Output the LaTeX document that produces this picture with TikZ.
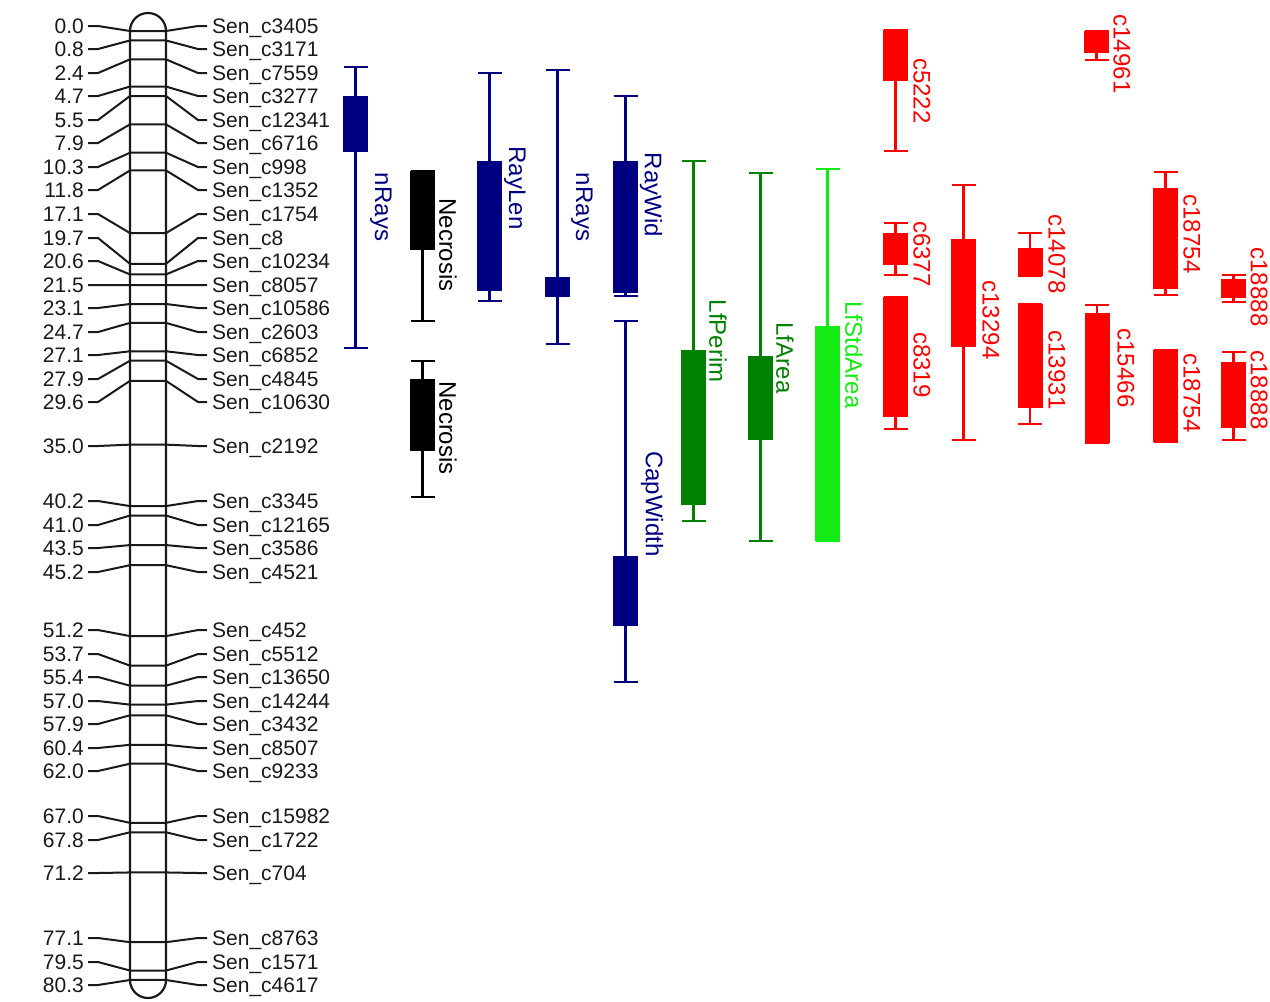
\documentclass[tikz,border=0pt]{standalone}
\usepackage{fontspec}
\setmainfont{Liberation Sans}
\definecolor{navyc}{RGB}{0,0,128}
\definecolor{dgreen}{RGB}{0,128,0}
\definecolor{lgreen}{RGB}{20,235,20}
\definecolor{redc}{RGB}{255,0,0}
\definecolor{mtext}{RGB}{25,25,25}
\newcommand\qtlbar[6]{%
  \draw[whisk,#1] (#2,#3) -- (#2,#6);
  \draw[whisk,#1] (#2-12,#3) -- (#2+12,#3);
  \draw[whisk,#1] (#2-12,#6) -- (#2+12,#6);
  \fill[#1] (#2-12.5,#4) rectangle (#2+12.5,#5);}
\begin{document}
\begin{tikzpicture}[x=1pt,y=-1pt,
  mlab/.style={font=\fontsize{21}{21}\selectfont, text=mtext, text height=15pt, text depth=0pt, inner ysep=2pt},
  mline/.style={line width=2pt, draw=mtext, line join=round},
  tlab/.style={rotate=-90, font=\fontsize{24}{24}\selectfont, inner sep=0pt},
  whisk/.style={line width=2.2pt}]
\useasboundingbox (0,0) rectangle (1270,1002);
\fill[white] (0,0) rectangle (1270,1002);

% markers
\foreach \cm/\ly/\nm [count=\i] in {
 0.0/26/Sen\_c3405, 0.8/49/Sen\_c3171, 2.4/73/Sen\_c7559, 4.7/96/Sen\_c3277,
 5.5/120/Sen\_c12341, 7.9/143/Sen\_c6716, 10.3/167/Sen\_c998, 11.8/190/Sen\_c1352,
 17.1/214/Sen\_c1754, 19.7/238/Sen\_c8, 20.6/261/Sen\_c10234, 21.5/285/Sen\_c8057,
 23.1/308/Sen\_c10586, 24.7/332/Sen\_c2603, 27.1/355/Sen\_c6852, 27.9/379/Sen\_c4845,
 29.6/402/Sen\_c10630, 35.0/446/Sen\_c2192, 40.2/501/Sen\_c3345, 41.0/525/Sen\_c12165,
 43.5/548/Sen\_c3586, 45.2/572/Sen\_c4521, 51.2/630/Sen\_c452, 53.7/654/Sen\_c5512,
 55.4/677/Sen\_c13650, 57.0/701/Sen\_c14244, 57.9/724/Sen\_c3432, 60.4/748/Sen\_c8507,
 62.0/771/Sen\_c9233, 67.0/816/Sen\_c15982, 67.8/840/Sen\_c1722, 71.2/873/Sen\_c704,
 77.1/938/Sen\_c8763, 79.5/962/Sen\_c1571, 80.3/985/Sen\_c4617}{
  \pgfmathsetmacro\my{31+\cm*11.818}
  \node[mlab, anchor=east, inner xsep=4pt] (L\i) at (88,\ly) {\cm};
  \node[mlab, anchor=west, inner xsep=5pt] (R\i) at (207,\ly) {\nm};
  \draw[mline] (L\i.east) -- ++(10,0) -- (130,\my) -- (166,\my) -- (198,\ly) -- (R\i.west);
}
% chromosome
\draw[line width=2.2pt, draw=mtext, rounded corners=18pt] (130,13) rectangle (166,998);

% QTL bars: colour, xc, whisker top, box top, box bottom, whisker bottom
\qtlbar{navyc}{355.5}{67}{96}{152}{348}
\qtlbar{black}{422.5}{171}{171}{250}{321}
\qtlbar{black}{422.5}{361}{379}{451}{497}
\qtlbar{navyc}{489.5}{73}{161}{291}{301}
\qtlbar{navyc}{557.5}{70}{277}{297}{344}
\qtlbar{navyc}{625.5}{96}{161}{293}{296}
\qtlbar{navyc}{625.5}{321}{556}{626}{682}
\qtlbar{dgreen}{693.5}{161}{350}{505}{521}
\qtlbar{dgreen}{760.5}{173}{356}{440}{541}
\qtlbar{lgreen}{827.5}{169}{326}{541}{541}
\qtlbar{redc}{895.5}{30}{30}{81}{151}
\qtlbar{redc}{1096.5}{31}{31}{53}{60}
\qtlbar{redc}{895.5}{223}{233}{265}{275}
\qtlbar{redc}{895.5}{297}{297}{417}{429}
\qtlbar{redc}{963.5}{185}{239}{347}{440}
\qtlbar{redc}{1030}{233}{248}{276}{276}
\qtlbar{redc}{1030}{304}{304}{408}{424}
\qtlbar{redc}{1097}{305}{313}{443}{443}
\qtlbar{redc}{1165.5}{172}{188}{289}{295}
\qtlbar{redc}{1165.5}{350}{350}{442}{442}
\qtlbar{redc}{1233.5}{275}{279}{298}{302}
\qtlbar{redc}{1233.5}{352}{362}{428}{440}

% trait labels
\node[tlab, text=navyc] (t1) at (381,207) {nRays};
\node[tlab, text=black] (t2) at (448,245) {Necrosis};
\node[tlab, text=black] (t3) at (448,428) {Necrosis};
\node[tlab, text=navyc] (t4) at (515,188) {RayLen};
\node[tlab, text=navyc] (t5) at (582,207) {nRays};
\node[tlab, text=navyc] (t6) at (651,195) {RayWid};
\node[tlab, text=navyc] (t7) at (652,504) {CapWidth};
\node[tlab, text=dgreen] (t8) at (718,341) {LfPerim};
\node[tlab, text=dgreen] (t9) at (785,358) {LfArea};
\node[tlab, text=lgreen] (t10) at (854,355) {LfStdArea};
\node[tlab, text=redc] (t11) at (922,91) {c5222};
\node[tlab, text=redc] (t12) at (1122,54) {c14961};
\node[tlab, text=redc] (t13) at (922,254) {c6377};
\node[tlab, text=redc] (t14) at (922,365) {c8319};
\node[tlab, text=redc] (t15) at (991,320) {c13294};
\node[tlab, text=redc] (t16) at (1057,254) {c14078};
\node[tlab, text=redc] (t17) at (1057,370) {c13931};
\node[tlab, text=redc] (t18) at (1126,368) {c15466};
\node[tlab, text=redc] (t19) at (1192,234) {c18754};
\node[tlab, text=redc] (t20) at (1192,393) {c18754};
\node[tlab, text=redc] (t21) at (1259,287) {c18888};
\node[tlab, text=redc] (t22) at (1259,390) {c18888};
\end{tikzpicture}
\end{document}
